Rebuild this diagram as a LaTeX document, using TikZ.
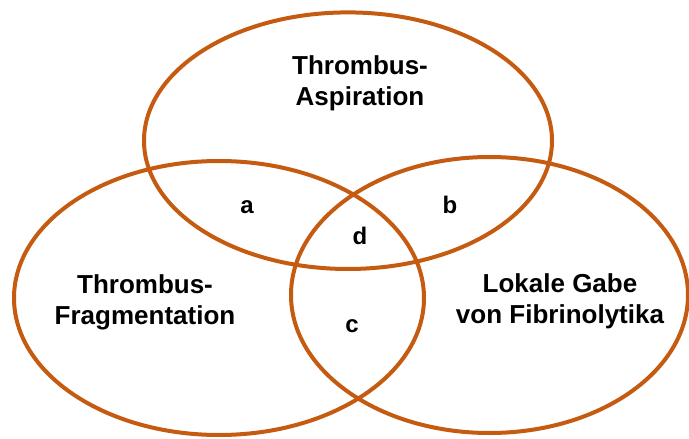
\documentclass[tikz,border=0pt]{standalone}
\usepackage{fontspec}
\setmainfont{Liberation Sans}
\definecolor{rim}{HTML}{C55A11}
\tikzset{
  setring/.style={draw=rim, line width=4pt},
  setname/.style={font=\fontsize{26}{31}\selectfont\bfseries, align=center, inner sep=0pt},
  zone/.style={font=\fontsize{24}{28}\selectfont\bfseries, inner sep=0pt, anchor=base}
}
\begin{document}
\begin{tikzpicture}[x=1pt, y=-1pt]
  \useasboundingbox (0,0) rectangle (689,439);
  % three overlapping sets
  \draw[setring] (348,140.7) ellipse [x radius=204, y radius=128.3];
  \draw[setring] (219,298) ellipse [x radius=205, y radius=137];
  \draw[setring] (489.5,295) ellipse [x radius=198.5, y radius=138];
  % set names
  \node[setname] (asp) at (360,83.7) {Thrombus-\\Aspiration};
  \node[setname] (frag) at (145,302.7) {Thrombus-\\Fragmentation};
  \node[setname] (lys) at (560,301.7) {Lokale Gabe\\von Fibrinolytika};
  % overlap regions
  \node[zone] (za) at (247,213) {a};
  \node[zone] (zb) at (450,213) {b};
  \node[zone] (zd) at (360,244) {d};
  \node[zone] (zc) at (352,332) {c};
\end{tikzpicture}
\end{document}
